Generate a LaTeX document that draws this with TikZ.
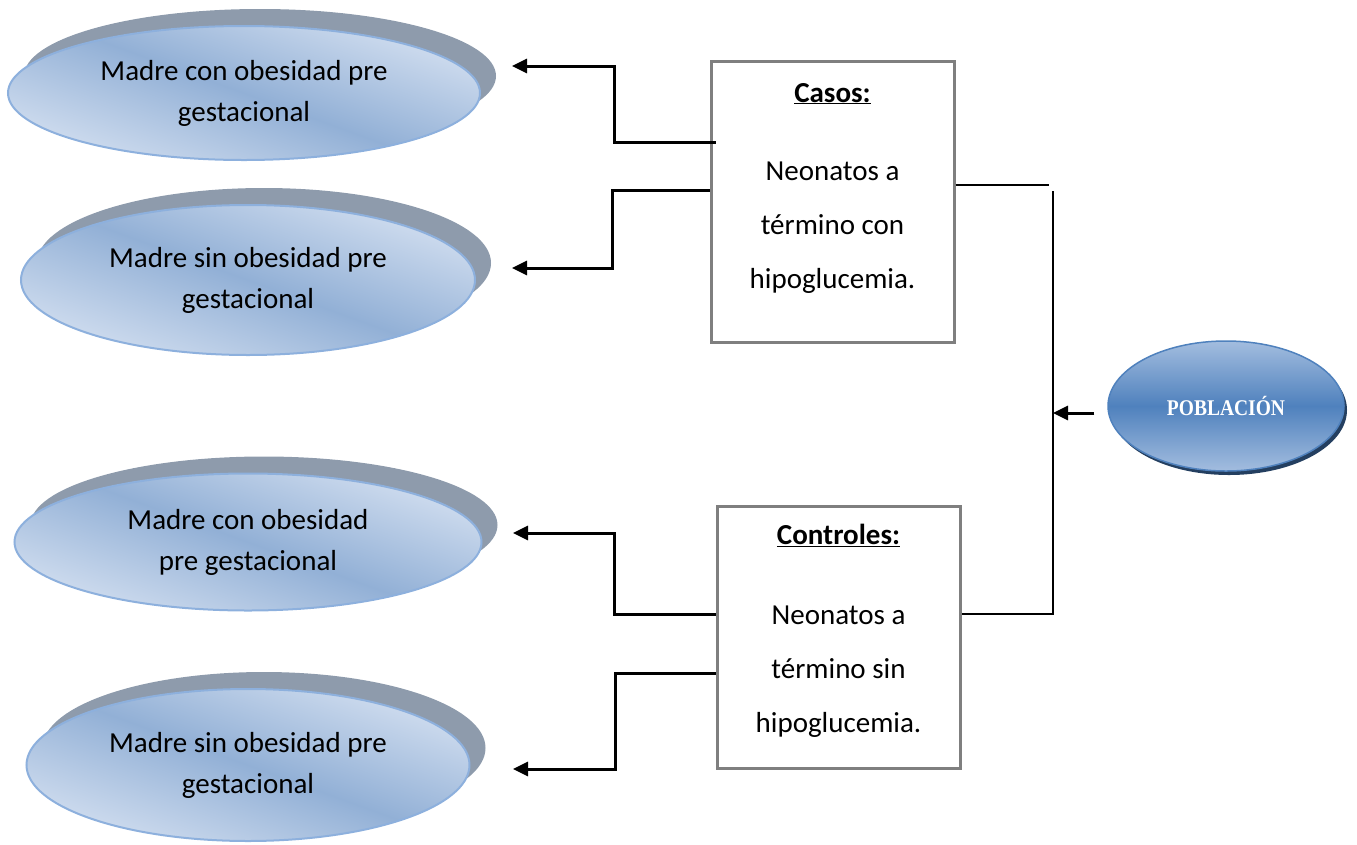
\documentclass[tikz,border=0pt]{standalone}
\usepackage{fontspec}
\setmainfont{Carlito}
\newfontfamily\poblfont{Liberation Serif}
\usepackage{xcolor}
\usepackage{graphicx}
\usepackage{tikz}
\usetikzlibrary{shapes.geometric,shadows,arrows.meta}

\definecolor{elfill}{HTML}{92B0D6}
\definecolor{ellight}{HTML}{D0DDEF}
\definecolor{eldraw}{HTML}{8DB0DD}
\definecolor{elshadow}{HTML}{8E9BAC}
\definecolor{pobfill}{HTML}{4F81BD}
\definecolor{poblight}{HTML}{A3BDDF}
\definecolor{pobshadow}{HTML}{243F60}
\definecolor{boxdraw}{HTML}{7F7F7F}

\begin{document}
\begin{tikzpicture}[x=1pt, y=-1pt,
    madre/.style={ellipse, draw=eldraw, line width=2pt, align=center, inner sep=0pt,
        top color=ellight, bottom color=ellight, middle color=elfill, shading angle=-20,
        font=\fontsize{29}{41}\selectfont,
        general shadow={shadow xshift=16pt, shadow yshift=17pt, fill=elshadow}},
    grupo/.style={rectangle, draw=boxdraw, line width=3pt, minimum width=243pt, align=center,
        inner sep=0pt, font=\fontsize{29}{54}\selectfont},
    arr/.style={line width=3pt, -{Triangle[length=15pt,width=14pt]}}]
    \useasboundingbox (0,0) rectangle (1357,844);
    % mothers
    \node[madre, minimum width=472pt, minimum height=134pt] (m1) at (244,93) {Madre con obesidad pre\\gestacional};
    \node[madre, minimum width=454pt, minimum height=150pt] (m2) at (248,280) {Madre sin obesidad pre\\gestacional};
    \node[madre, minimum width=467pt, minimum height=137pt] (m3) at (248,542) {Madre con obesidad\\pre gestacional};
    \node[madre, minimum width=443pt, minimum height=152pt] (m4) at (248,765) {Madre sin obesidad pre\\gestacional};
    % groups
    \node[grupo, minimum height=281pt] (casos) at (832.5,201.5)
        {\underline{\textbf{Casos:}}\\[24pt]Neonatos a\\término con\\hipoglucemia.\\[-22pt]\mbox{}};
    \node[grupo, minimum height=262pt] (controles) at (838.5,637)
        {\underline{\textbf{Controles:}}\\[26pt]Neonatos a\\término sin\\hipoglucemia.\\[-37pt]\mbox{}};
    \node[ellipse, draw=pobfill, line width=1.5pt, top color=poblight, bottom color=poblight,
        middle color=pobfill, minimum width=236pt, minimum height=130pt, text=white,
        general shadow={shadow xshift=3pt, shadow yshift=-4pt, fill=pobshadow},
        font=\poblfont\bfseries\fontsize{19.5}{23}\selectfont] (poblacion) at (1226,406) {\scalebox{1}[1.15]{POBLACIÓN}};
    % arrow ends
    \coordinate (a1) at (512,66);
    \coordinate (a2) at (512,268);
    \coordinate (a3) at (513,533);
    \coordinate (a4) at (513,769);
    \coordinate (jtop) at (1049,185);
    \coordinate (vtop) at (1053,191);
    \coordinate (vbot) at (1053,614);
    \coordinate (pin) at (1053,413);
    \draw[arr] ([xshift=6pt]casos.west |- 0,142) -| ([xshift=102pt]a1) -- (a1);
    \draw[arr] (casos.west |- 0,190) -| ([xshift=100pt]a2) -- (a2);
    \draw[arr] (controles.west |- 0,614) -| ([xshift=101pt]a3) -- (a3);
    \draw[arr] (controles.west |- 0,673) -| ([xshift=102pt]a4) -- (a4);
    \draw[line width=2.2pt] (casos.east |- jtop) -- (jtop);
    \draw[line width=2.8pt] (vtop) -- (vbot) -- (controles.east |- vbot);
    \draw[arr, shorten <=13pt] (poblacion.west |- pin) -- (pin);
\end{tikzpicture}
\end{document}
